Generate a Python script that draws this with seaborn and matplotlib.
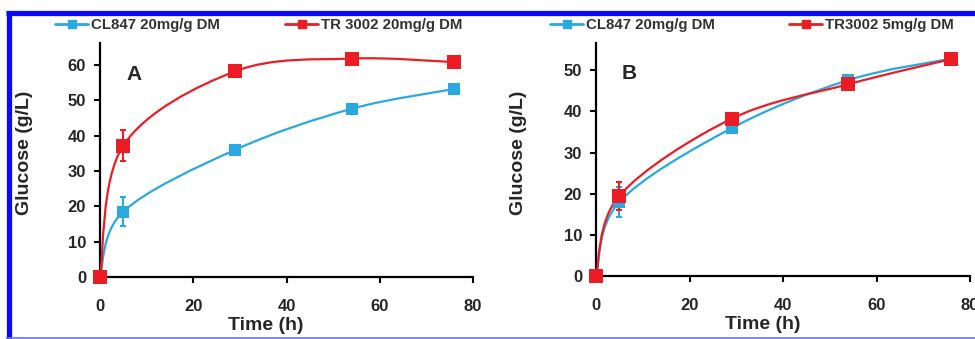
import numpy as np
import matplotlib
matplotlib.use("Agg")
import matplotlib.pyplot as plt
import seaborn as sns
from matplotlib.path import Path
from matplotlib.patches import PathPatch
from matplotlib.lines import Line2D

# ---------------- data ----------------
time_h = [0, 5, 29, 54, 76]

a_cl847 = [0, 18.5, 36.0, 47.6, 53.2]
a_cl847_err = [0, 4.0, 0, 0, 0]
a_tr3002 = [0, 37.2, 58.2, 61.8, 60.8]
a_tr3002_err = [0, 4.3, 0, 0, 0]

b_cl847 = [0, 18.0, 35.9, 47.6, 52.8]
b_cl847_err = [0, 3.7, 0, 0, 0]
b_tr3002 = [0, 19.5, 38.2, 46.6, 52.7]
b_tr3002_err = [0, 3.4, 0, 0, 0]

labels_a = ["CL847 20mg/g DM", "TR 3002 20mg/g DM"]
labels_b = ["CL847 20mg/g DM", "TR3002 5mg/g DM"]
panel_letters = ["A", "B"]
x_ticks = [0, 20, 40, 60, 80]
y_ticks_a = [0, 10, 20, 30, 40, 50, 60]
y_ticks_b = [0, 10, 20, 30, 40, 50]

CYAN = "#2AA9E0"
RED = "#EB1C24"

sns.set_style("ticks")
plt.rcParams["font.family"] = ["Liberation Sans", "DejaVu Sans"]
plt.rcParams["font.weight"] = "bold"

W, H = 975, 339
fig = plt.figure(figsize=(W / 100, H / 100), dpi=100)


def px_axes(l, r, b, t):
    return fig.add_axes([l / W, 1 - b / H, (r - l) / W, (b - t) / H])


def smooth_curve(ax, x, y, color, z):
    pts = ax.transData.transform(np.column_stack([x, y]))
    n = len(pts)
    verts = [pts[0]]
    codes = [Path.MOVETO]
    for i in range(n - 1):
        p0 = pts[i - 1] if i > 0 else pts[i]
        p1 = pts[i]
        p2 = pts[i + 1]
        p3 = pts[i + 2] if i + 2 < n else pts[i + 1]
        c1 = p1 + (p2 - p0) / 6.0
        c2 = p2 - (p3 - p1) / 6.0
        verts += [c1, c2, p2]
        codes += [Path.CURVE4] * 3
    verts = ax.transData.inverted().transform(np.array(verts))
    ax.add_patch(PathPatch(Path(verts, codes), fill=False, edgecolor=color,
                           lw=1.6, zorder=z, clip_on=False))


def panel(ax, ymax, yticks, s1, e1, s2, e2, letter, ylab_x):
    ax.set_xlim(0, 80)
    ax.set_ylim(0, ymax)
    smooth_curve(ax, time_h, s1, CYAN, 2)
    smooth_curve(ax, time_h, s2, RED, 3)
    ax.errorbar(time_h, s1, yerr=e1, fmt="none", ecolor=CYAN, elinewidth=1.5,
                capsize=2.5, capthick=1.5, zorder=2.5)
    ax.errorbar(time_h, s2, yerr=e2, fmt="none", ecolor=RED, elinewidth=1.5,
                capsize=2.5, capthick=1.5, zorder=3.5)
    sns.scatterplot(x=time_h, y=s1, marker="s", s=78, color=CYAN, linewidth=0,
                    ax=ax, zorder=4, clip_on=False)
    sns.scatterplot(x=time_h, y=s2, marker="s", s=90, color=RED, linewidth=0,
                    ax=ax, zorder=5, clip_on=False)
    ax.set_xticks(x_ticks)
    ax.set_yticks(yticks)
    for sp in ["top", "right"]:
        ax.spines[sp].set_visible(False)
    for sp in ["left", "bottom"]:
        ax.spines[sp].set_linewidth(1.6)
        ax.spines[sp].set_color("black")
    ax.tick_params(axis="both", direction="out", length=4, width=1.5,
                   labelsize=12, labelcolor="#262626", color="black")
    ax.tick_params(axis="x", pad=12)
    ax.tick_params(axis="y", pad=6)
    for lab in ax.get_xticklabels() + ax.get_yticklabels():
        lab.set_fontweight("bold")
    ax.set_xlabel("Time (h)", fontsize=14, fontweight="bold")
    ax.set_ylabel("Glucose (g/L)", fontsize=14, fontweight="bold")
    ax.yaxis.set_label_coords(ylab_x, 0.53)
    ax.xaxis.set_label_coords(0.445, -0.172)
    ax.text(0.09, 0.867, letter, transform=ax.transAxes, fontsize=15,
            fontweight="bold", ha="center", va="center")
    ax.patch.set_alpha(0)


ax_a = px_axes(100, 473, 277, 43)
panel(ax_a, 66.2, y_ticks_a, a_cl847, a_cl847_err, a_tr3002, a_tr3002_err,
      panel_letters[0], -0.18)

ax_b = px_axes(596, 970, 276, 43)
panel(ax_b, 56.6, y_ticks_b, b_cl847, b_cl847_err, b_tr3002, b_tr3002_err,
      panel_letters[1], -0.185)


def leg_entry(label, color, x_px):
    h = Line2D([], [], color=color, lw=2, marker="s", markersize=5.5)
    fig.legend(handles=[h], labels=[label], loc="center left",
               bbox_to_anchor=(x_px / W, 1 - 25.5 / H), frameon=False,
               handlelength=2.2, handletextpad=0.2, borderpad=0,
               borderaxespad=0, prop={"size": 10.8, "weight": "bold"},
               labelcolor="#333333")


leg_entry(labels_a[0], CYAN, 55)
leg_entry(labels_a[1], RED, 285)
leg_entry(labels_b[0], CYAN, 550)
leg_entry(labels_b[1], RED, 789)

# blue frame of the original figure
fig.add_artist(Line2D([6 / W, 1], [1 - 12.5 / H] * 2, color="#0A0AF5", lw=3.8,
                      transform=fig.transFigure, solid_capstyle="butt"))
fig.add_artist(Line2D([8.5 / W] * 2, [1 - 10.5 / H, 0], color="#0A0AF5", lw=3.8,
                      transform=fig.transFigure, solid_capstyle="butt"))
fig.add_artist(Line2D([6 / W, 1], [1 - 337.5 / H] * 2, color="#6A6AFF", lw=1.2,
                      transform=fig.transFigure, solid_capstyle="butt"))

fig.savefig("out.png", dpi=100)
